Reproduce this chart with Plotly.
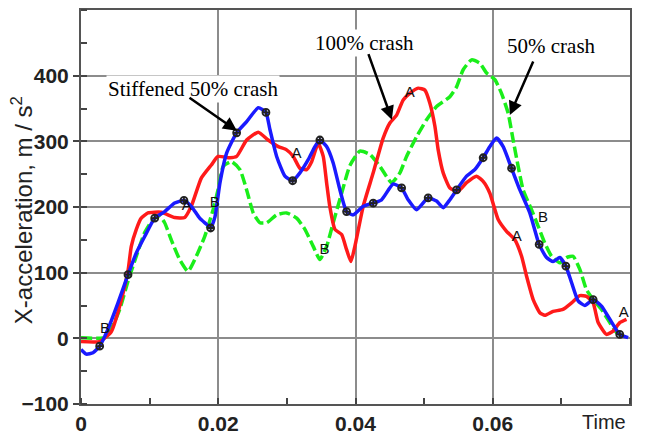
import numpy as np
import plotly.graph_objects as go

# --- 100% crash (red, solid) ---
red_t = [0, 0.00272, 0.00441, 0.00587, 0.00685, 0.00733, 0.00806, 0.00878, 0.00976, 0.0117,
         0.01365, 0.01511, 0.01607, 0.01753, 0.01899, 0.01996, 0.0217, 0.02268, 0.02414, 0.02583,
         0.02728, 0.02874, 0.02996, 0.03093, 0.0319, 0.03288, 0.03361, 0.03457, 0.0353, 0.03579,
         0.03627, 0.037, 0.03798, 0.0387, 0.03933, 0.03991, 0.04112, 0.04258, 0.04403, 0.04501,
         0.04599, 0.04695, 0.04792, 0.04913, 0.05011, 0.05084, 0.05157, 0.05205, 0.05278, 0.05375,
         0.05496, 0.05618, 0.05764, 0.0586, 0.05958, 0.06079, 0.06201, 0.06322, 0.0642, 0.06492,
         0.06589, 0.06686, 0.06759, 0.0688, 0.07021, 0.07148, 0.07269, 0.07366, 0.07463, 0.07536,
         0.07658, 0.07754, 0.07851, 0.07949]
red_y = [-5, -5, 10, 58, 103, 140, 166, 183, 191, 192,
         184, 184, 201, 244, 264, 277, 275, 277, 302, 314,
         302, 292, 287, 277, 259, 257, 269, 297, 277, 237,
         200, 166, 158, 135, 117, 140, 201, 252, 305, 328,
         340, 363, 373, 381, 378, 358, 323, 287, 252, 229,
         224, 237, 247, 239, 221, 181, 163, 150, 125, 95,
         59, 39, 35, 41, 44, 54, 65, 64, 54, 24,
         6, 11, 24, 29]

# --- 50% crash (green, dashed) ---
green_t = [0, 0.00345, 0.00441, 0.00564, 0.00685, 0.00806, 0.00928, 0.01049, 0.01146, 0.01219,
           0.01315, 0.01438, 0.01559, 0.0168, 0.01802, 0.01923, 0.01996, 0.02073, 0.02195, 0.02316,
           0.02414, 0.0251, 0.02607, 0.02705, 0.02851, 0.02996, 0.03142, 0.03263, 0.03384, 0.03481,
           0.03579, 0.03675, 0.03798, 0.03918, 0.04064, 0.0421, 0.04355, 0.04526, 0.04647, 0.04744,
           0.0489, 0.05036, 0.05181, 0.05375, 0.05473, 0.05569, 0.05691, 0.05812, 0.0591, 0.06031,
           0.06128, 0.06224, 0.06297, 0.0637, 0.06443, 0.06565, 0.06661, 0.06759, 0.06857, 0.06977,
           0.07075, 0.07171, 0.07269, 0.07366, 0.07463, 0.07585, 0.07706, 0.07803, 0.07924]
green_y = [1, 1, 14, 44, 87, 125, 161, 181, 186, 176,
           150, 120, 102, 125, 155, 195, 226, 262, 269, 257,
           226, 191, 176, 176, 188, 191, 183, 166, 140, 120,
           140, 176, 221, 263, 285, 280, 262, 237, 252, 277,
           307, 333, 353, 368, 383, 409, 424, 419, 404, 394,
           373, 343, 302, 262, 226, 196, 171, 145, 125, 115,
           123, 125, 105, 74, 59, 44, 24, 9, 3]

# --- Stiffened 50% crash (blue, solid with symbols) ---
blue_t = [0, 0.00077, 0.00175, 0.00272, 0.00393, 0.00539, 0.00685, 0.00806, 0.00928, 0.01074,
          0.01219, 0.01365, 0.015, 0.01607, 0.01729, 0.01825, 0.01889, 0.01952, 0.02025, 0.02122,
          0.02268, 0.02414, 0.02583, 0.02695, 0.02753, 0.02851, 0.02972, 0.03084, 0.0319, 0.03311,
          0.03409, 0.03481, 0.03579, 0.03675, 0.03773, 0.0387, 0.03967, 0.04112, 0.04258, 0.0438,
          0.04549, 0.04672, 0.04768, 0.0489, 0.05059, 0.05181, 0.05278, 0.05375, 0.05473, 0.05618,
          0.05739, 0.0586, 0.05958, 0.06055, 0.06152, 0.06274, 0.06395, 0.0654, 0.06676, 0.06784,
          0.0688, 0.06977, 0.07065, 0.07148, 0.07244, 0.07342, 0.07463, 0.07585, 0.07706, 0.07851,
          0.07973]
blue_y = [-17, -24, -22, -12, 14, 54, 97, 130, 155, 183,
          193, 206, 210, 201, 183, 174, 168, 185, 237, 282,
          313, 330, 351, 344, 318, 277, 247, 240, 252, 272,
          292, 302, 292, 267, 226, 193, 188, 201, 206, 211,
          235, 229, 211, 196, 214, 209, 199, 211, 226, 247,
          257, 275, 292, 305, 292, 259, 226, 191, 143, 123,
          117, 123, 110, 85, 57, 50, 59, 49, 29, 6,
          1]

# symbol stations along each curve
blue_mark_t = [0.00272, 0.00685, 0.01074, 0.015, 0.01889, 0.02268, 0.02695, 0.03084, 0.03481, 0.0387,
               0.04258, 0.04672, 0.05059, 0.05473, 0.0586, 0.06274, 0.06676, 0.07065, 0.07463, 0.07851]
red_label_t = [0.0154, 0.0314, 0.0479, 0.0635, 0.0791]
red_label_pos = ["top center", "top center", "middle center", "top center", "top center"]
green_label_t = [0.0035, 0.0195, 0.0355, 0.0666]
green_label_pos = ["top center", "middle center", "middle center", "top right"]

y_ticks = [-100, 0, 100, 200, 300, 400]
x_ticks = [0, 0.02, 0.04, 0.06]
x_ticktext = ["0", "0.02", "0.04", "0.06"]

RED = "#ff1a1a"
GREEN = "#1aee1a"
BLUE = "#1a1aff"

fig = go.Figure()

fig.add_trace(go.Scatter(x=green_t, y=green_y, mode="lines",
                         line=dict(color=GREEN, width=3.5, dash="11px,4px", shape="spline", smoothing=0.5),
                         name="50% crash"))
fig.add_trace(go.Scatter(x=red_t, y=red_y, mode="lines",
                         line=dict(color=RED, width=3.5, shape="spline", smoothing=0.5),
                         name="100% crash"))
fig.add_trace(go.Scatter(x=blue_t, y=blue_y, mode="lines",
                         line=dict(color=BLUE, width=3.5, shape="spline", smoothing=0.5),
                         name="Stiffened 50% crash"))

fig.add_trace(go.Scatter(x=blue_mark_t, y=np.interp(blue_mark_t, blue_t, blue_y), mode="markers",
                         marker=dict(symbol="circle-cross-open", size=7, color="#222",
                                     line=dict(width=1.8, color="#222"))))
fig.add_trace(go.Scatter(x=red_label_t, y=np.interp(red_label_t, red_t, red_y), mode="text",
                         text=["A"] * len(red_label_t), textposition=red_label_pos,
                         textfont=dict(family="Liberation Sans", size=15, color="#111")))
fig.add_trace(go.Scatter(x=green_label_t, y=np.interp(green_label_t, green_t, green_y), mode="text",
                         text=["B"] * len(green_label_t), textposition=green_label_pos,
                         textfont=dict(family="Liberation Sans", size=15, color="#111")))

tick_font = dict(family="Liberation Sans", size=21, color="#222", weight="bold")

fig.update_xaxes(range=[0, 0.08], tickvals=x_ticks, ticktext=x_ticktext, ticks="",
                 automargin=False,
                 showgrid=True, gridcolor="#8c8c8c", gridwidth=1.5, zeroline=False,
                 showline=True, mirror=True, linecolor="#555", linewidth=2,
                 tickfont=tick_font,
                 minor=dict(dtick=0.01, tick0=0, ticks="inside", ticklen=6, tickwidth=1.5,
                            tickcolor="#444", showgrid=False))
fig.update_yaxes(range=[-100, 500], tickvals=y_ticks, ticks="outside", ticklen=6, tickwidth=1.5,
                 tickcolor="#444", automargin=False,
                 showgrid=True, gridcolor="#8c8c8c", gridwidth=1.5, zeroline=False,
                 showline=True, mirror=True, linecolor="#555", linewidth=2,
                 tickfont=tick_font,
                 minor=dict(dtick=50, tick0=-100, ticks="inside", ticklen=6, tickwidth=1.5,
                            tickcolor="#444", showgrid=False))

serif = dict(family="Liberation Serif", size=21, color="black")
arrow_style = dict(text="", showarrow=True, axref="x", ayref="y", arrowhead=2, arrowsize=1.1,
                   arrowwidth=2.5, arrowcolor="black", standoff=0)
annotations = [
    dict(x=0.01639, y=380, text="Stiffened 50% crash", showarrow=False, font=serif,
         bgcolor="white", xanchor="center", yanchor="middle"),
    dict(x=0.04137, y=450, text="100% crash", showarrow=False, font=serif,
         bgcolor="white", xanchor="center", yanchor="middle"),
    dict(x=0.0686, y=445, text="50% crash", showarrow=False, font=serif,
         bgcolor="white", xanchor="center", yanchor="middle"),
    # pointer arrows
    dict(x=0.02272, y=316, ax=0.01559, ay=368, **arrow_style),
    dict(x=0.0453, y=333, ax=0.04181, ay=435, **arrow_style),
    dict(x=0.06249, y=340, ax=0.06599, ay=424, **arrow_style),
    # axis titles
    dict(x=0.0797, xref="x", y=0, yref="paper", yanchor="top", xanchor="right", yshift=-5,
         text="Time", showarrow=False, font=dict(family="Liberation Sans", size=20, color="#222")),
    dict(x=0, xref="paper", xshift=-59, y=0.492, yref="paper", textangle=-90,
         xanchor="center", yanchor="middle", showarrow=False,
         text="X-acceleration, m / s<sup>2</sup>",
         font=dict(family="Liberation Sans", size=24, color="#222")),
]

fig.update_layout(width=645, height=434, margin=dict(l=81, r=15, t=10, b=30),
                  plot_bgcolor="white", paper_bgcolor="white", showlegend=False,
                  annotations=annotations)

fig.write_html("out.html")
